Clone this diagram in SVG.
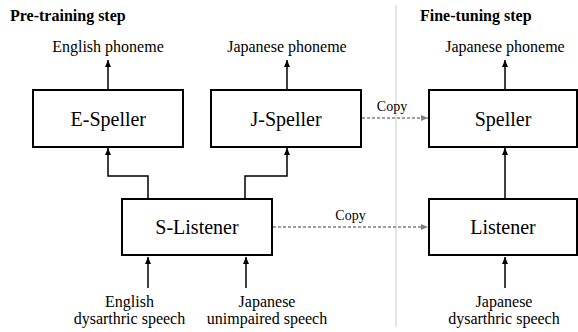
<svg xmlns="http://www.w3.org/2000/svg" width="578" height="332" viewBox="0 0 578 332" font-family="'Liberation Serif', serif">
<style>
text{font-family:'Liberation Serif',serif;fill:#000}
.box{fill:#fff;stroke:#000;stroke-width:2}
.lbl{font-size:20px}
.t{font-size:16px}
.h{font-size:16px;font-weight:bold}
.c{font-size:14px}
.ln{fill:none;stroke:#000;stroke-width:1.5}
.dl{fill:none;stroke:#808080;stroke-width:1.5;stroke-dasharray:3 2}
</style>
<defs>
<marker id="ah" markerUnits="userSpaceOnUse" markerWidth="8" markerHeight="8" refX="7" refY="3" orient="auto"><path d="M0,0 L7,3 L0,6 z" fill="#000"/></marker>
<marker id="ahg" markerUnits="userSpaceOnUse" markerWidth="8" markerHeight="8" refX="7" refY="3" orient="auto"><path d="M0,0 L7,3 L0,6 z" fill="#808080"/></marker>
</defs>
<line x1="396" y1="5" x2="396" y2="327" stroke="#cccccc" stroke-width="1"/>
<text class="h" x="10" y="21">Pre-training step</text>
<text class="h" x="420" y="21">Fine-tuning step</text>
<g id="connectors">
<path class="ln" d="M108,90 V60" marker-end="url(#ah)"/>
<path class="ln" d="M287,90 V60" marker-end="url(#ah)"/>
<path class="ln" d="M505,90 V60" marker-end="url(#ah)"/>
<path class="ln" d="M148,198 V176 H108 V148" marker-end="url(#ah)"/>
<path class="ln" d="M245,198 V176 H287 V148" marker-end="url(#ah)"/>
<path class="ln" d="M505,198 V148" marker-end="url(#ah)"/>
<path class="ln" d="M148,288 V257" marker-end="url(#ah)"/>
<path class="ln" d="M246,288 V257" marker-end="url(#ah)"/>
<path class="ln" d="M505,288 V257" marker-end="url(#ah)"/>
<path class="dl" d="M362,118 H428" marker-end="url(#ahg)"/>
<path class="dl" d="M273,227 H428" marker-end="url(#ahg)"/>
<text class="c" x="376.8" y="111">Copy</text>
<text class="c" x="335.3" y="220">Copy</text>
</g>
<g id="e-speller"><rect class="box" x="33" y="90" width="150" height="57"/><text class="lbl" x="70.5" y="126">E-Speller</text></g>
<g id="j-speller"><rect class="box" x="211" y="90" width="150" height="57"/><text class="lbl" x="250.5" y="126">J-Speller</text></g>
<g id="speller"><rect class="box" x="429" y="90" width="148" height="57"/><text class="lbl" x="474.7" y="126">Speller</text></g>
<g id="s-listener"><rect class="box" x="122" y="199" width="150" height="56"/><text class="lbl" x="155.3" y="234">S-Listener</text></g>
<g id="listener"><rect class="box" x="429" y="199" width="148" height="56"/><text class="lbl" x="470.2" y="234">Listener</text></g>
<g id="out-en"><text class="t" x="52.2" y="52">English phoneme</text></g>
<g id="out-ja"><text class="t" x="227.2" y="52">Japanese phoneme</text></g>
<g id="out-ja2"><text class="t" x="445.2" y="52">Japanese phoneme</text></g>
<g id="in-en"><text class="t" x="105.1" y="307">English</text><text class="t" x="73.7" y="324">dysarthric speech</text></g>
<g id="in-ja"><text class="t" x="238.6" y="307">Japanese</text><text class="t" x="206.8" y="324">unimpaired speech</text></g>
<g id="in-ja2"><text class="t" x="475.6" y="307">Japanese</text><text class="t" x="448.2" y="324">dysarthric speech</text></g>
</svg>
